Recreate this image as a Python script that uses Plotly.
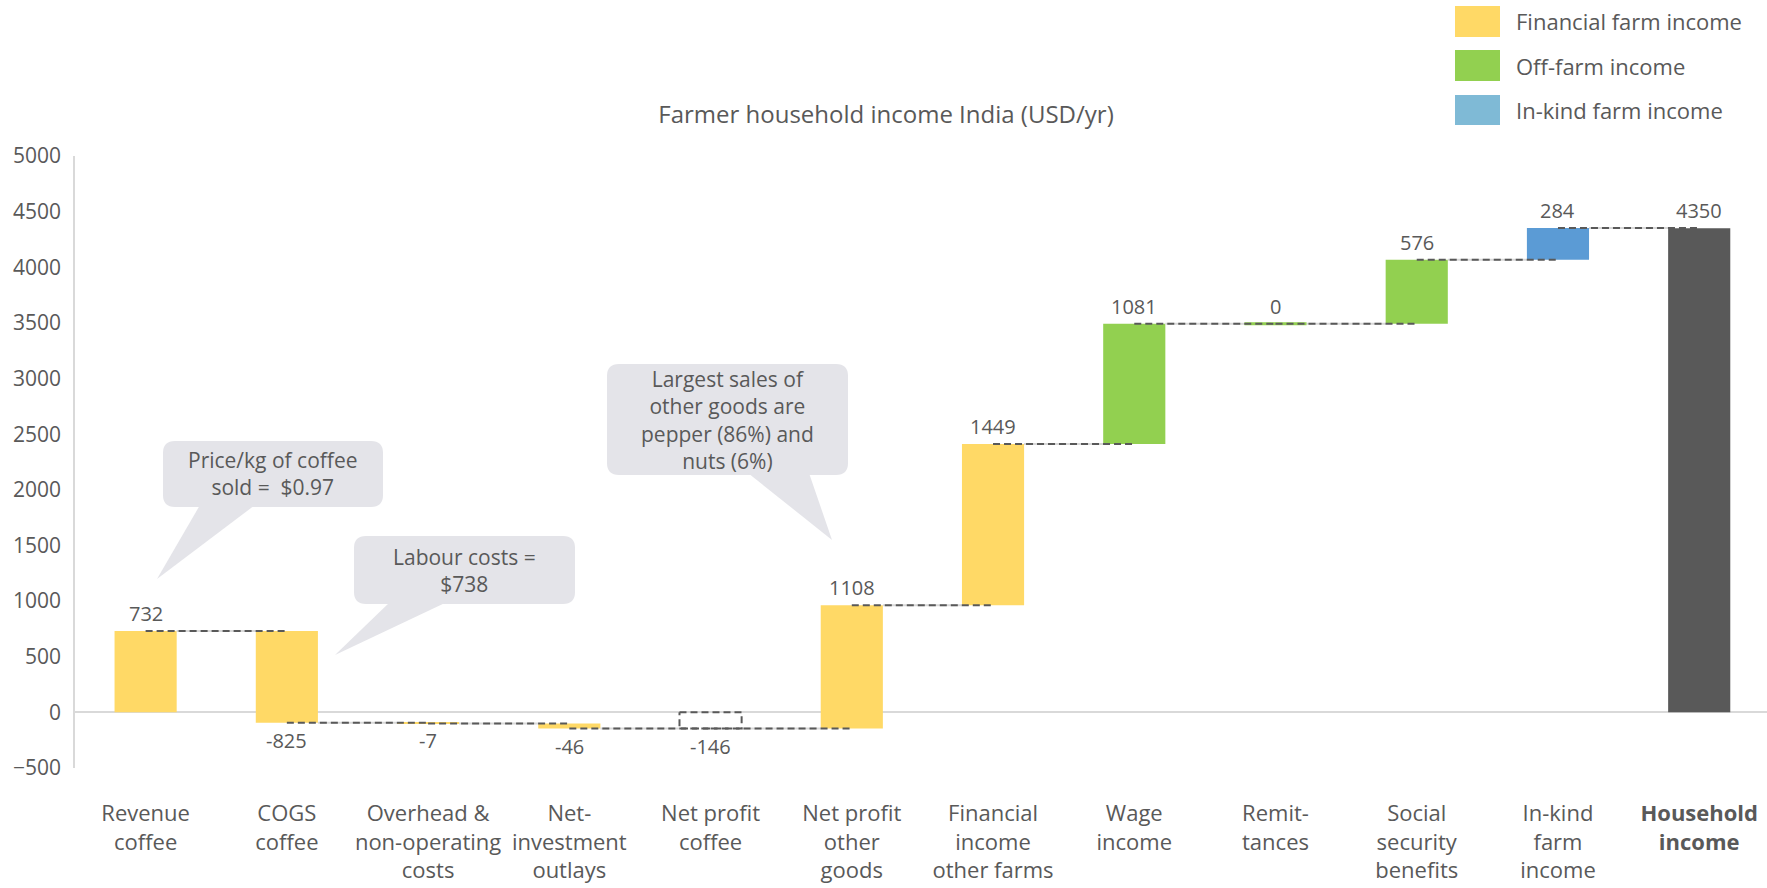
import plotly.graph_objects as go

categories = ["Revenue<br>coffee", "COGS<br>coffee", "Overhead &<br>non-operating<br>costs",
              "Net-<br>investment<br>outlays", "Net profit<br>coffee", "Net profit<br>other<br>goods",
              "Financial<br>income<br>other farms", "Wage<br>income", "Remit-<br>tances",
              "Social<br>security<br>benefits", "In-kind<br>farm<br>income", "<b>Household<br>income</b>"]
changes = [732, -825, -7, -46, -146, 1108, 1449, 1081, 0, 576, 284, 4350]
kinds = ["step", "step", "step", "step", "subtotal", "step", "step", "step", "step", "step", "step", "total"]
groups = ["fin", "fin", "fin", "fin", "fin", "fin", "fin", "off", "off", "off", "kind", "total"]

legend_names = ["Financial farm income", "Off-farm income", "In-kind farm income"]

bar_colors = {"fin": "#FFD966", "off": "#92D050", "kind": "#5B9BD5", "total": "#595959"}
legend_colors = ["#FFD966", "#92D050", "#7FBAD6"]
TXT = "#595959"
FONT = "Open Sans"

W, H = 1767, 888
L, R, T, B = 75, 0, 156, 120
BW = 0.44

# running totals
bases, ends = [], []
level = 0
for v, k in zip(changes, kinds):
    if k == "step":
        bases.append(level)
        level += v
    elif k == "subtotal":
        bases.append(0)
    else:
        bases.append(0)
        level = v
    ends.append(level)

fig = go.Figure()

# light grey edge connectors
for i in range(len(changes) - 1):
    fig.add_trace(go.Scatter(x=[i + BW / 2, i + 1 - BW / 2], y=[ends[i], ends[i]], mode="lines",
                             line=dict(color="#D9D9D9", width=2), hoverinfo="skip", showlegend=False))

for g in ["fin", "off", "kind", "total"]:
    idx = [i for i in range(len(changes)) if groups[i] == g and kinds[i] != "subtotal" and changes[i] != 0]
    fig.add_trace(go.Bar(x=idx, y=[changes[i] for i in idx], base=[bases[i] for i in idx],
                         width=BW, marker=dict(color=bar_colors[g], line=dict(width=0)), showlegend=False))

for i in range(len(changes)):
    if changes[i] == 0:
        fig.add_trace(go.Scatter(x=[i - BW / 2, i + BW / 2], y=[ends[i], ends[i]], mode="lines",
                                 line=dict(color=bar_colors[groups[i]], width=3), showlegend=False))
    if kinds[i] == "subtotal":
        fig.add_trace(go.Scatter(x=[i - BW / 2, i + BW / 2, i + BW / 2, i - BW / 2, i - BW / 2],
                                 y=[0, 0, ends[i], ends[i], 0], mode="lines",
                                 line=dict(color=TXT, width=2, dash="7px,4px"), showlegend=False))

# dashed centre-to-centre connectors
for i in range(len(changes) - 1):
    fig.add_trace(go.Scatter(x=[i, i + 1], y=[ends[i], ends[i]], mode="lines",
                             line=dict(color=TXT, width=2, dash="7px,4px"), hoverinfo="skip", showlegend=False))

# value labels
for i, v in enumerate(changes):
    up = v >= 0
    fig.add_annotation(x=i, y=ends[i], text=str(v), showarrow=False, xanchor="center",
                       yanchor="bottom" if up else "top", yshift=2 if up else -2,
                       font=dict(size=20, color=TXT, family=FONT))


def px(x, y):
    return (x - L) / (W - L - R), (H - B - y) / (H - B - T)


def round_box(x0, y0, x1, y1, r=12):
    pts = []
    a = px(x0 + r, y0); pts.append("M%f,%f" % a)
    a = px(x1 - r, y0); pts.append("L%f,%f" % a)
    c = px(x1, y0); e = px(x1, y0 + r); pts.append("Q%f,%f %f,%f" % (c + e))
    a = px(x1, y1 - r); pts.append("L%f,%f" % a)
    c = px(x1, y1); e = px(x1 - r, y1); pts.append("Q%f,%f %f,%f" % (c + e))
    a = px(x0 + r, y1); pts.append("L%f,%f" % a)
    c = px(x0, y1); e = px(x0, y1 - r); pts.append("Q%f,%f %f,%f" % (c + e))
    a = px(x0, y0 + r); pts.append("L%f,%f" % a)
    c = px(x0, y0); e = px(x0 + r, y0); pts.append("Q%f,%f %f,%f" % (c + e))
    return " ".join(pts) + " Z"


def tail(p1, p2, tip):
    a, b, c = px(*p1), px(*p2), px(*tip)
    return "M%f,%f L%f,%f L%f,%f Z" % (a + b + c)


bubbles = [
    ((163, 441, 383, 507), ((200, 505), (255, 505), (157, 579)), "Price/kg of coffee<br>sold =  $0.97"),
    ((354, 536, 575, 604), ((390, 602), (447, 602), (335, 655)), "Labour costs =<br>$738"),
    ((607, 364, 848, 475), ((748, 473), (809, 473), (832, 540)),
     "Largest sales of<br>other goods are<br>pepper (86%) and<br>nuts (6%)"),
]
BUB = "#E4E4E9"
for box, tl, txt in bubbles:
    fig.add_shape(type="path", path=round_box(*box), xref="paper", yref="paper",
                  fillcolor=BUB, line=dict(width=0), layer="above")
    fig.add_shape(type="path", path=tail(*tl), xref="paper", yref="paper",
                  fillcolor=BUB, line=dict(width=0), layer="above")
    cx, cy = px((box[0] + box[2]) / 2, (box[1] + box[3]) / 2)
    fig.add_annotation(x=cx, y=cy, xref="paper", yref="paper", text=txt, showarrow=False,
                       xanchor="center", yanchor="middle",
                       font=dict(size=21, color=TXT, family=FONT), align="center")

# legend
leg_y = [(6, 37), (50, 81), (95, 125)]
for name, col, (y0, y1) in zip(legend_names, legend_colors, leg_y):
    a = px(1455, y1); b = px(1500, y0)
    fig.add_shape(type="rect", x0=a[0], x1=b[0], y0=a[1], y1=b[1], xref="paper", yref="paper",
                  fillcolor=col, line=dict(width=0))
    t = px(1514, (y0 + y1) / 2)
    fig.add_annotation(x=t[0], y=t[1], xref="paper", yref="paper", text=name, showarrow=False,
                       xanchor="left", yanchor="middle", font=dict(size=22, color=TXT, family=FONT))

fig.update_layout(
    width=W, height=H, autosize=False,
    margin=dict(l=L, r=R, t=T, b=B),
    plot_bgcolor="white", paper_bgcolor="white",
    barmode="overlay",
    title=dict(text="Farmer household income India (USD/yr)", x=px(886, 0)[0], xref="paper",
               y=1 - 115 / H, yanchor="middle", xanchor="center",
               font=dict(size=24, color=TXT, family=FONT)),
    xaxis=dict(range=[-0.5, 11.48], tickvals=list(range(len(categories))), ticktext=categories,
               showgrid=False, zeroline=False, showline=False, ticks="",
               tickfont=dict(size=22, color=TXT, family=FONT), ticklabelstandoff=30),
    yaxis=dict(range=[-500, 5000], dtick=500, showgrid=False, showline=True, linecolor="#D9D9D9",
               linewidth=1.5, zeroline=True, zerolinecolor="#D9D9D9", zerolinewidth=2, ticks="",
               tickfont=dict(size=21, color=TXT, family=FONT), ticklabelstandoff=8),
    showlegend=False,
)

fig.write_html("out.html", config={"displayModeBar": False},
               post_script="document.body.style.margin='0';")
